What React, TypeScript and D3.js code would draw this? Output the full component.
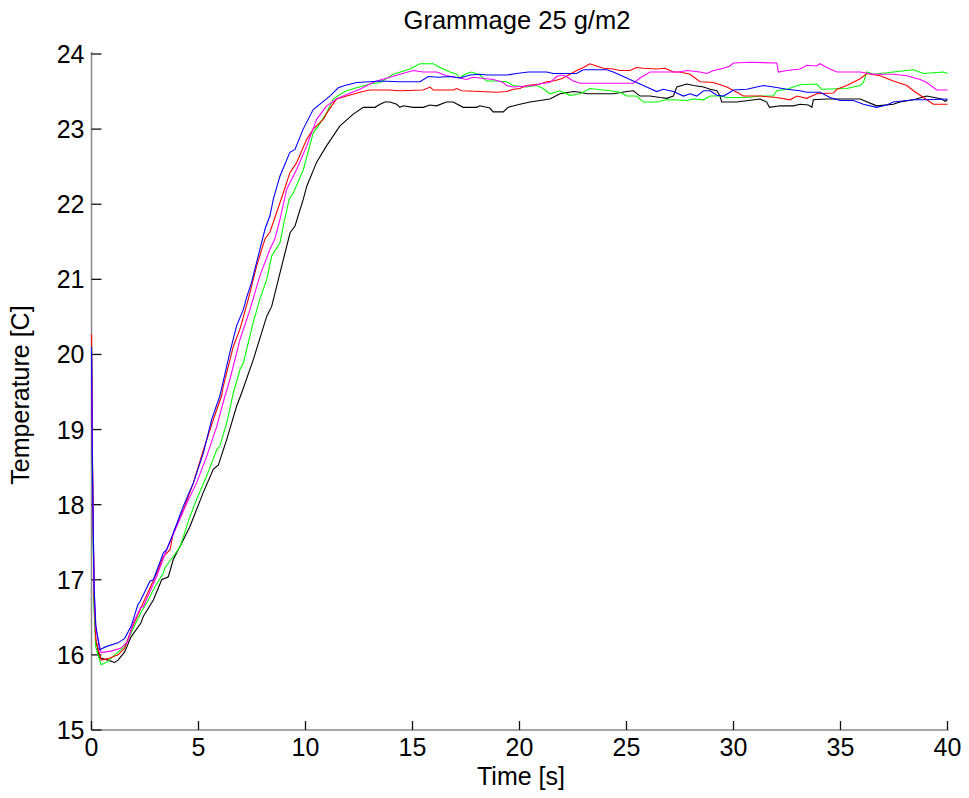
import * as d3 from 'd3'

// readings in [time s, temperature C]
const BLACK: [number, number][] = [
  [0, 20.05], [0.05, 18.4], [0.12, 16.7], [0.2, 16.2], [0.38, 15.96], [0.77, 15.93], [1.08, 15.9], [1.24, 15.93],
  [1.55, 16.04], [1.85, 16.24], [2.3, 16.42], [2.42, 16.51], [2.89, 16.73], [3.28, 17.0], [3.59, 17.04], [3.82, 17.27],
  [4.29, 17.53], [4.6, 17.71], [5.22, 18.16], [5.69, 18.47], [5.93, 18.53], [6.32, 18.87], [6.78, 19.31], [7.02, 19.49],
  [7.56, 19.93], [8.19, 20.51], [8.42, 20.64], [8.89, 21.18], [9.28, 21.62], [9.51, 21.71], [9.9, 22.07], [10.06, 22.24],
  [10.52, 22.56], [10.99, 22.78], [11.6, 23.04], [12.23, 23.2], [12.7, 23.29], [13.25, 23.29], [13.48, 23.33],
  [13.71, 23.36], [13.95, 23.36], [14.26, 23.33], [14.41, 23.29], [14.57, 23.31], [15.03, 23.29], [15.5, 23.29],
  [15.81, 23.32], [16.12, 23.31], [16.59, 23.36], [16.9, 23.36], [17.37, 23.29], [17.99, 23.29], [18.15, 23.31],
  [18.61, 23.28], [18.77, 23.23], [19.24, 23.23], [19.47, 23.29], [20.02, 23.33], [20.49, 23.36], [20.96, 23.38],
  [21.42, 23.4], [21.89, 23.47], [22.52, 23.5], [22.83, 23.49], [23.14, 23.47], [23.76, 23.47], [24.39, 23.47],
  [25.01, 23.5], [25.32, 23.51], [25.63, 23.44], [26.1, 23.44], [26.57, 23.42], [26.88, 23.41], [27.19, 23.44],
  [27.35, 23.56], [27.82, 23.6], [28.13, 23.58], [28.6, 23.56], [28.91, 23.53], [29.22, 23.51], [29.37, 23.44],
  [29.45, 23.36], [30.15, 23.36], [31.24, 23.4], [31.55, 23.36], [31.68, 23.29], [32.18, 23.31], [32.8, 23.31],
  [33.11, 23.33], [33.5, 23.32], [33.66, 23.29], [33.73, 23.39], [34.36, 23.4], [35.29, 23.4], [35.92, 23.4],
  [36.69, 23.31], [37.47, 23.33], [37.78, 23.36], [38.41, 23.39], [39.03, 23.44], [39.73, 23.4], [39.89, 23.37], [40, 23.39],
]

const GREEN: [number, number][] = [
  [0, 20.16], [0.05, 18.3], [0.12, 16.6], [0.2, 16.1], [0.45, 15.87], [0.77, 15.91], [1.08, 16.0], [1.55, 16.11],
  [1.85, 16.29], [2.3, 16.56], [2.58, 16.69], [2.97, 16.91], [3.36, 17.09], [3.43, 17.16], [3.82, 17.31], [4.14, 17.44],
  [4.6, 17.84], [4.91, 18.07], [5.38, 18.38], [5.85, 18.73], [6.0, 18.78], [6.32, 19.09], [6.63, 19.49], [6.94, 19.8],
  [7.1, 19.89], [7.56, 20.43], [7.87, 20.74], [8.19, 21.0], [8.42, 21.31], [8.81, 21.49], [8.96, 21.71], [9.24, 22.07],
  [9.43, 22.15], [9.9, 22.46], [10.36, 22.95], [10.6, 23.04], [10.99, 23.22], [11.3, 23.4], [11.61, 23.46],
  [11.92, 23.51], [12.39, 23.55], [13.01, 23.6], [13.48, 23.62], [14.1, 23.73], [14.88, 23.8], [15.35, 23.87],
  [15.97, 23.87], [16.28, 23.82], [16.75, 23.76], [17.06, 23.73], [17.22, 23.68], [17.45, 23.73], [17.76, 23.76],
  [18.15, 23.72], [18.46, 23.64], [18.93, 23.64], [19.4, 23.63], [19.71, 23.58], [20.33, 23.56], [20.8, 23.58],
  [21.11, 23.54], [21.42, 23.47], [21.89, 23.51], [22.36, 23.45], [22.83, 23.47], [23.29, 23.54], [24.23, 23.51],
  [24.7, 23.49], [25.01, 23.44], [25.47, 23.44], [25.79, 23.36], [26.41, 23.36], [26.88, 23.39], [27.19, 23.39],
  [27.82, 23.38], [28.13, 23.4], [28.6, 23.39], [28.91, 23.44], [29.37, 23.44], [29.69, 23.42], [30.62, 23.42],
  [31.24, 23.44], [31.87, 23.44], [32.02, 23.51], [32.49, 23.53], [33.11, 23.59], [33.89, 23.6], [34.12, 23.53],
  [35.29, 23.54], [35.92, 23.58], [36.07, 23.62], [36.23, 23.76], [36.54, 23.73], [37.47, 23.76], [38.41, 23.79],
  [38.88, 23.74], [39.81, 23.76], [40, 23.74],
]

const RED: [number, number][] = [
  [0, 20.27], [0.05, 18.5], [0.12, 16.8], [0.2, 16.2], [0.45, 15.93], [0.77, 15.95], [1.24, 16.0], [1.55, 16.09],
  [1.85, 16.33], [2.27, 16.6], [2.97, 17.04], [3.36, 17.31], [3.67, 17.4], [3.82, 17.62], [4.29, 17.93], [4.76, 18.29],
  [5.23, 18.73], [5.69, 19.13], [6.08, 19.45], [6.16, 19.58], [6.63, 20.11], [6.94, 20.34], [7.33, 20.74], [7.72, 21.18],
  [8.11, 21.54], [8.34, 21.63], [8.65, 21.89], [8.96, 22.15], [9.27, 22.42], [9.58, 22.55], [10.05, 22.86],
  [10.36, 23.0], [10.83, 23.13], [11.06, 23.24], [11.22, 23.31], [11.45, 23.4], [11.92, 23.44], [12.54, 23.49],
  [13.01, 23.52], [13.87, 23.52], [14.41, 23.51], [15.5, 23.52], [15.82, 23.56], [15.97, 23.52], [16.91, 23.52],
  [17.06, 23.54], [17.3, 23.51], [18.15, 23.5], [18.93, 23.49], [19.4, 23.5], [19.71, 23.53], [20.02, 23.54],
  [20.33, 23.58], [20.96, 23.6], [21.27, 23.63], [21.58, 23.64], [21.97, 23.67], [22.36, 23.73], [22.67, 23.78],
  [22.98, 23.82], [23.29, 23.87], [23.6, 23.84], [23.92, 23.81], [24.38, 23.8], [24.7, 23.78], [25.16, 23.78],
  [25.47, 23.82], [25.79, 23.81], [26.41, 23.8], [26.8, 23.81], [27.19, 23.76], [27.5, 23.76], [27.97, 23.73],
  [28.44, 23.63], [29.06, 23.62], [29.69, 23.56], [30.15, 23.49], [30.46, 23.44], [31.24, 23.44], [32.02, 23.42],
  [32.64, 23.39], [32.96, 23.44], [33.42, 23.41], [33.89, 23.47], [34.67, 23.48], [34.83, 23.53], [35.29, 23.58],
  [35.92, 23.67], [36.23, 23.74], [36.85, 23.71], [37.47, 23.64], [38.1, 23.58], [38.41, 23.51], [38.88, 23.42],
  [39.34, 23.33], [40, 23.33],
]

const MAGENTA: [number, number][] = [
  [0, 20.0], [0.05, 18.4], [0.12, 16.9], [0.2, 16.35], [0.45, 16.03], [0.91, 16.05], [1.38, 16.09], [1.7, 16.18],
  [1.94, 16.42], [2.3, 16.63], [2.42, 16.64], [3.04, 17.04], [3.51, 17.4], [3.98, 17.71], [4.45, 18.02], [4.91, 18.29],
  [5.38, 18.64], [5.85, 19.04], [6.19, 19.4], [6.47, 19.67], [6.94, 20.2], [7.41, 20.6], [7.87, 21.05], [8.34, 21.4],
  [8.57, 21.54], [8.81, 21.8], [9.12, 22.2], [9.58, 22.46], [10.05, 22.77], [10.52, 23.13], [10.99, 23.31],
  [11.45, 23.4], [11.92, 23.46], [12.54, 23.53], [13.01, 23.6], [13.32, 23.64], [13.95, 23.69], [14.41, 23.73],
  [15.04, 23.78], [15.5, 23.76], [16.13, 23.76], [16.6, 23.71], [17.22, 23.68], [17.53, 23.66], [17.84, 23.69],
  [18.15, 23.68], [18.78, 23.66], [19.24, 23.62], [19.4, 23.58], [19.71, 23.56], [20.18, 23.57], [20.65, 23.58],
  [21.11, 23.61], [21.42, 23.62], [21.74, 23.7], [21.97, 23.72], [22.2, 23.7], [22.51, 23.64], [22.83, 23.61],
  [24.38, 23.61], [25.32, 23.61], [25.63, 23.68], [26.1, 23.76], [27.5, 23.76], [27.82, 23.78], [28.44, 23.76],
  [28.75, 23.74], [29.06, 23.78], [29.53, 23.81], [29.84, 23.84], [29.99, 23.88], [30.78, 23.89], [32.02, 23.88],
  [32.1, 23.76], [32.49, 23.78], [33.11, 23.8], [33.42, 23.85], [33.89, 23.84], [34.05, 23.87], [34.36, 23.82],
  [34.83, 23.76], [35.92, 23.76], [36.54, 23.73], [37.47, 23.73], [38.1, 23.71], [38.72, 23.66], [39.03, 23.62],
  [39.5, 23.52], [40, 23.52],
]

const BLUE: [number, number][] = [
  [0, 20.1], [0.05, 18.3], [0.12, 16.9], [0.2, 16.4], [0.38, 16.07], [0.68, 16.11], [1.24, 16.16], [1.55, 16.22],
  [1.85, 16.38], [2.17, 16.67], [2.27, 16.71], [2.73, 16.98], [2.89, 17.0], [3.36, 17.36], [3.51, 17.4], [3.82, 17.62],
  [4.29, 17.98], [4.76, 18.29], [5.23, 18.69], [5.61, 19.13], [6.0, 19.45], [6.47, 20.03], [6.78, 20.38], [7.1, 20.6],
  [7.25, 20.76], [7.48, 20.96], [7.87, 21.4], [8.11, 21.67], [8.34, 21.85], [8.5, 22.07], [8.8, 22.37], [9.27, 22.69],
  [9.51, 22.73], [9.89, 23.0], [10.36, 23.26], [11.14, 23.44], [11.53, 23.55], [11.84, 23.58], [12.39, 23.62],
  [13.01, 23.63], [13.48, 23.64], [14.41, 23.63], [15.35, 23.63], [15.74, 23.7], [16.21, 23.69], [16.75, 23.7],
  [17.22, 23.68], [17.69, 23.72], [18.15, 23.73], [18.46, 23.72], [19.4, 23.72], [19.87, 23.74], [20.41, 23.76],
  [21.27, 23.76], [21.58, 23.74], [22.67, 23.74], [22.98, 23.79], [24.07, 23.79], [24.38, 23.76], [25.32, 23.64],
  [25.94, 23.56], [26.41, 23.5], [26.72, 23.53], [27.19, 23.5], [27.66, 23.44], [27.97, 23.47], [28.28, 23.44],
  [28.6, 23.51], [28.91, 23.51], [29.22, 23.45], [29.53, 23.44], [29.84, 23.49], [29.99, 23.52], [30.62, 23.53],
  [31.4, 23.58], [31.87, 23.56], [32.49, 23.53], [33.11, 23.51], [33.42, 23.49], [34.05, 23.49], [34.51, 23.42],
  [34.98, 23.38], [35.6, 23.38], [36.07, 23.33], [36.69, 23.29], [37.16, 23.32], [37.47, 23.36], [38.41, 23.39],
  [39.03, 23.39], [40, 23.4],
]

const SERIES = [
  { name: 'black', color: '#000000', data: BLACK },
  { name: 'green', color: '#00ff00', data: GREEN },
  { name: 'red', color: '#ff0000', data: RED },
  { name: 'magenta', color: '#ff00ff', data: MAGENTA },
  { name: 'blue', color: '#0000ff', data: BLUE },
]

const X_TICKS = [0, 5, 10, 15, 20, 25, 30, 35, 40]
const Y_TICKS = [15, 16, 17, 18, 19, 20, 21, 22, 23, 24]

const W = 969
const H = 798
const FONT = '"Liberation Sans", Arial, Helvetica, sans-serif'

export default function App() {
  const margin = { left: 91.5, right: 21.5, top: 54, bottom: 68 }
  const x = d3.scaleLinear().domain([0, 40]).range([margin.left, W - margin.right])
  const y = d3.scaleLinear().domain([15, 24]).range([H - margin.bottom, margin.top])
  const line = d3.line<[number, number]>().x(d => x(d[0])).y(d => y(d[1]))

  const x0 = x(0)
  const y0 = y(15)

  return (
    <svg width={W} height={H} style={{ position: 'absolute', left: 0, top: 0, background: '#fff' }}
      fontFamily={FONT}>
      <rect width={W} height={H} fill="#fff" />
      {/* axes */}
      <line x1={x0} x2={x0} y1={y(24) - 2} y2={y0} stroke="#888" strokeWidth={1.5} />
      <line x1={x0} x2={x(40) + 1} y1={y0} y2={y0} stroke="#888" strokeWidth={1.5} />
      {Y_TICKS.map(t => (
        <g key={'y' + t}>
          <line x1={x0} x2={x0 + 10} y1={y(t)} y2={y(t)} stroke="#111" strokeWidth={1.3} />
          <text x={x0 - 7} y={y(t)} dy="0.36em" textAnchor="end" fontSize={25}>{t}</text>
        </g>
      ))}
      {X_TICKS.map(t => (
        <g key={'x' + t}>
          <line x1={x(t)} x2={x(t)} y1={y0} y2={y0 - 9} stroke="#111" strokeWidth={1.3} />
          <text x={x(t)} y={y0 + 26} textAnchor="middle" fontSize={25}>{t}</text>
        </g>
      ))}
      {/* series */}
      {SERIES.map(s => (
        <path key={s.name} d={line(s.data) || ''} fill="none" stroke={s.color} strokeWidth={1.1} />
      ))}
      {/* labels */}
      <text x={517} y={29} textAnchor="middle" fontSize={25.5}>Grammage 25 g/m2</text>
      <text x={521} y={785} textAnchor="middle" fontSize={25}>Time [s]</text>
      <text transform={`translate(29,395) rotate(-90)`} textAnchor="middle" fontSize={25}>Temperature [C]</text>
    </svg>
  )
}
